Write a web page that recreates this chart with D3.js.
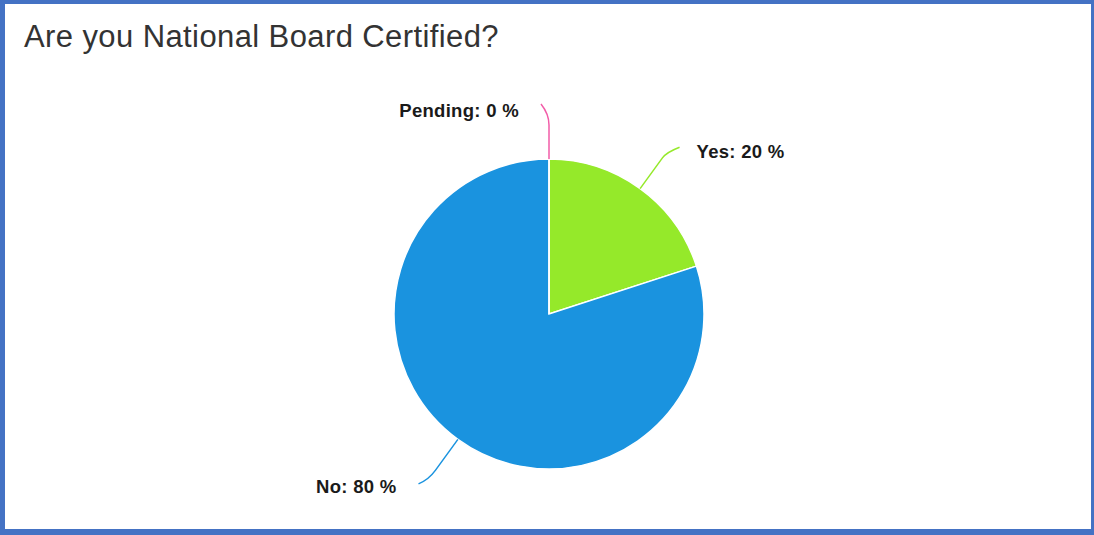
<!DOCTYPE html>
<html>
    <head>
        <title>Are you National Board Certified?</title>
        <script src="https://d3js.org/d3.v7.min.js"></script>
        <style>
            body { margin: 0; background: #fff; }
            .frame {
                position: absolute; left: 0; top: 0;
                width: 1086px; height: 525px;
                border-left: 5px solid #4472c4;
                border-top: 4px solid #4472c4;
                border-right: 3px solid #4472c4;
                border-bottom: 6px solid #4472c4;
                background: #fff;
            }
            .label { font-family: "Liberation Sans", Arial, sans-serif; font-size: 18.5px; letter-spacing: 0.3px; font-weight: bold; fill: #1a1a1a; }
            .title { font-family: "Liberation Sans", Arial, sans-serif; font-size: 31px; letter-spacing: 0.4px; fill: #333; }
        </style>
    </head>
    <body>
        <div class="frame"></div>
        <div id="chart" style="position:absolute;left:0;top:0"></div>
        <script>
            const categories = ['Yes', 'No', 'Pending'];
            const values = [20, 80, 0];
            const colors = ['#95e92a', '#1a93df', '#f25ca8'];

            const width = 1094, height = 535;
            const cx = 549, cy = 314, r = 155;

            const svg = d3.select('#chart').append('svg')
                .attr('width', width).attr('height', height);

            svg.append('text').attr('class', 'title')
                .attr('x', 24).attr('y', 47)
                .text('Are you National Board Certified?');

            const data = categories.map((c, i) => ({ name: c, value: values[i], color: colors[i] }));
            const pie = d3.pie().sort(null).value(d => d.value);
            const arcs = pie(data);
            const arc = d3.arc().innerRadius(0).outerRadius(r);

            const g = svg.append('g').attr('transform', 'translate(' + cx + ',' + cy + ')');

            g.selectAll('path.slice')
                .data(arcs)
                .enter()
                .append('path')
                .attr('class', 'slice')
                .attr('d', arc)
                .attr('fill', d => d.data.color)
                .attr('stroke', '#fff')
                .attr('stroke-width', 1.5);

            // connectors and labels
            const pt = (a, rad) => [Math.sin(a) * rad, -Math.cos(a) * rad];
            arcs.forEach(d => {
                const a = (d.startAngle + d.endAngle) / 2;
                const right = Math.sin(a) > 0.01;
                const left = Math.sin(a) < -0.01;
                const p0 = pt(a, r);
                let p1, p2, tx, ty, anchor;
                if (right) {
                    p1 = pt(a, r + 45);
                    p2 = [p1[0] + 13, p1[1] - 5];
                    tx = p2[0] + 17; ty = p2[1] + 11; anchor = 'start';
                } else if (left) {
                    p1 = pt(a, r + 50);
                    p2 = [p1[0] - 10, p1[1] + 4];
                    tx = p2[0] - 22; ty = p2[1] + 9; anchor = 'end';
                } else {
                    p1 = pt(a, r + 45);
                    p2 = [p1[0] - 8, p1[1] - 10];
                    tx = p2[0] - 22; ty = p2[1] + 13; anchor = 'end';
                }
                const mid = pt(a, r + (right || left ? 38 : 34));
                g.append('path')
                    .attr('d', 'M' + p0 + 'L' + mid + 'Q' + p1 + ' ' + p2)
                    .attr('fill', 'none')
                    .attr('stroke', d.data.color)
                    .attr('stroke-width', 1.5);
                g.append('text').attr('class', 'label')
                    .attr('x', tx).attr('y', ty)
                    .attr('text-anchor', anchor)
                    .text(d.data.name + ': ' + d.data.value + ' %');
            });
        </script>
    </body>
</html>
